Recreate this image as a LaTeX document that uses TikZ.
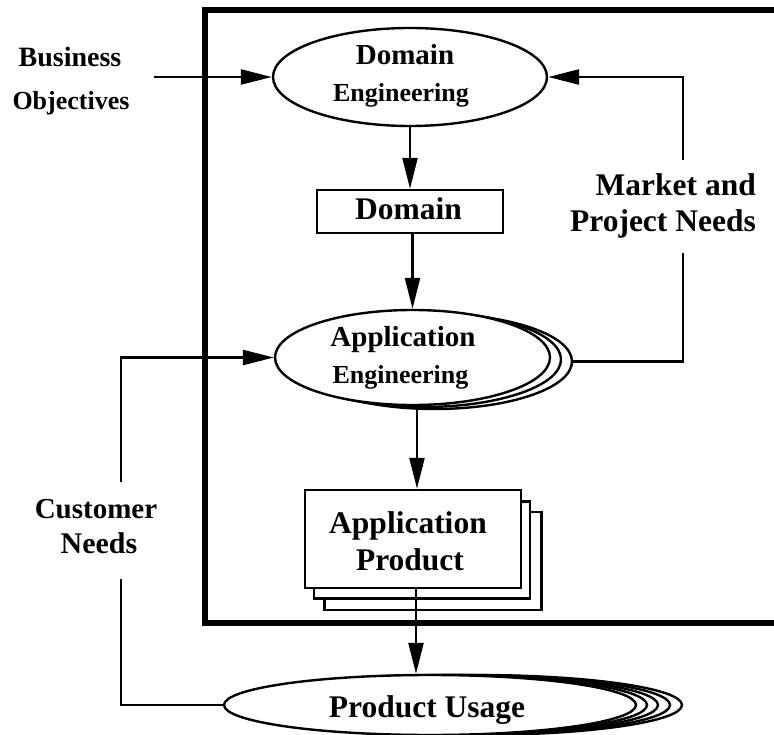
\documentclass[tikz,border=0pt]{standalone}
\usepackage{fontspec}
\setmainfont{Liberation Serif}
\usetikzlibrary{shapes.geometric,arrows.meta}
\newcommand\myfs[1]{\fontsize{#1}{#1}\selectfont}
\begin{document}
\begin{tikzpicture}[x=1pt,y=-1pt,
  ln/.style={line width=2.4pt},
  arr/.style={ln,-{Triangle[length=31pt,width=15pt]}},
  ell/.style={ellipse,draw,ln,fill=white,inner sep=0pt},
  box/.style={rectangle,draw,ln,fill=white,inner sep=0pt},
  txt/.style={inner sep=0pt,anchor=base}
]
\useasboundingbox (0,0) rectangle (774,735);

% frame
\draw[line width=5.5pt] (795,10) -- (205,10) -- (205,623) -- (795,623);

% Domain Engineering
\node[ell,minimum width=274pt,minimum height=98pt] (domeng) at (410,77) {};
\node[txt,font=\bfseries\myfs{29}] (domengA) at (405,65) {Domain};
\node[txt,font=\bfseries\myfs{26}] (domengB) at (401,102) {Engineering};

% Domain box
\node[box,minimum width=186pt,minimum height=43pt] (domain) at (410,211.5) {};
\node[txt,font=\bfseries\myfs{31.5}] (domainT) at (408.5,220) {Domain};

% Application Engineering (stack)
\node[ell,minimum width=275pt,minimum height=95pt] (appeng3) at (434.5,361.5) {};
\node[ell,minimum width=275pt,minimum height=95pt] (appeng2) at (423.5,359.5) {};
\node[ell,minimum width=275pt,minimum height=95pt] (appeng) at (412.5,357.5) {};
\node[txt,font=\bfseries\myfs{29}] (appengA) at (403,347) {Application};
\node[txt,font=\bfseries\myfs{26}] (appengB) at (400.5,383) {Engineering};

% Application Product (stack)
\node[box,minimum width=217pt,minimum height=98pt] (aprod3) at (433,561) {};
\node[box,minimum width=216pt,minimum height=97pt] (aprod2) at (422,550) {};
\node[box,minimum width=216pt,minimum height=98pt] (aprod) at (413,539) {};
\node[txt,font=\bfseries\myfs{31.5}] (aprodA) at (408,533) {Application};
\node[txt,font=\bfseries\myfs{31.5}] (aprodB) at (410,570) {Product};

% Product Usage (stack)
\node[ell,minimum width=412pt,minimum height=60pt] (pu4) at (476,705) {};
\node[ell,minimum width=412pt,minimum height=60pt] (pu3) at (464,705) {};
\node[ell,minimum width=412pt,minimum height=60pt] (pu2) at (452,705) {};
\node[ell,minimum width=412pt,minimum height=60pt] (pu1) at (441,705) {};
\node[ell,minimum width=412pt,minimum height=60pt] (pu) at (430,705) {};
\node[txt,font=\bfseries\myfs{31.5}] (puT) at (427,717) {Product Usage};

% side labels
\node[txt,font=\bfseries\myfs{28}] (busA) at (70,67) {Business};
\node[txt,font=\bfseries\myfs{26}] (busB) at (71,110) {Objectives};
\node[txt,font=\bfseries\myfs{31.5},anchor=base east] (mkA) at (756,196) {Market and};
\node[txt,font=\bfseries\myfs{31.5},anchor=base east] (mkB) at (756,232) {Project Needs};
\node[txt,font=\bfseries\myfs{29}] (cuA) at (96,518) {Customer};
\node[txt,font=\bfseries\myfs{30}] (cuB) at (99,553) {Needs};

% connector end points
\coordinate (bo) at (154,77);
\coordinate (mk1) at (683,253);
\coordinate (mk2) at (683,160);
\coordinate (cn1) at (121,579);
\coordinate (cn2) at (121,482);

% connectors
\draw[arr] (bo) -- (domeng.west);
\draw[arr] (domeng.south) -- (domain.north);
\draw[arr] (domain.south -| appeng.north) -- (appeng.north);
\draw[arr] ([xshift=4.5pt]appeng.south) -- ([xshift=4.5pt]appeng.south |- aprod.north);
\draw[arr] ([xshift=3pt]aprod.south) -- ([xshift=3pt]aprod.south |- pu.north);
\draw[ln] (appeng3.east) -| (mk1);
\draw[arr] (mk2) |- (domeng.east);
\draw[ln] (pu.west) -| (cn1);
\draw[arr] (cn2) |- (appeng.west);
\end{tikzpicture}
\end{document}
